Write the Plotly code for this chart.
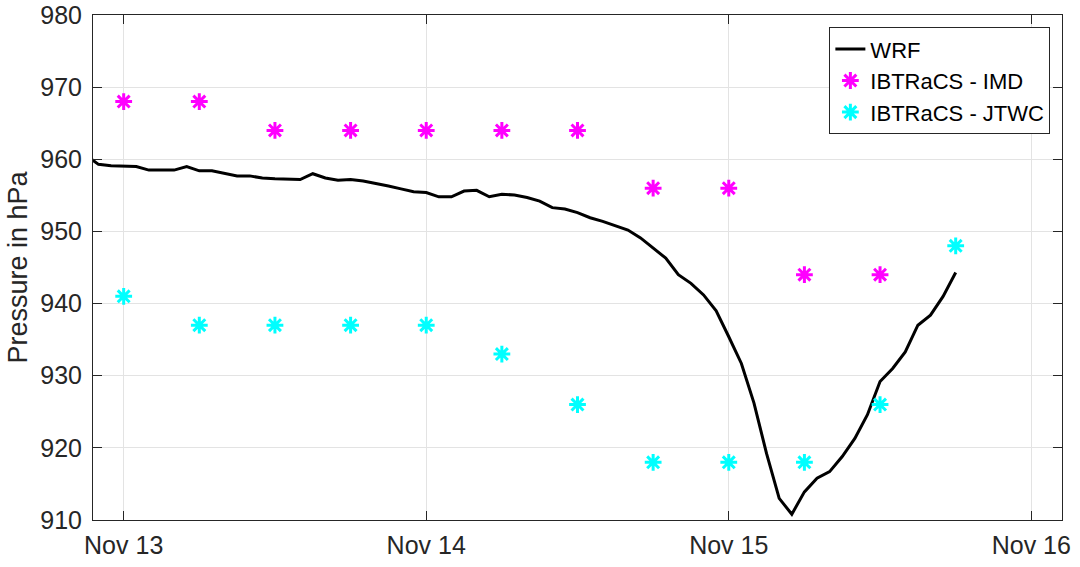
import plotly.graph_objects as go
import pandas as pd

# WRF hourly minimum pressure (hPa), Nov 12 21:00 -> Nov 15 18:00
wrf_start = "2018-11-12 21:00"
wrf_pressure = [
    960.6, 959.3, 959.1,
    959.0, 959.0, 958.5, 958.5, 958.5, 959.0, 958.4, 958.4, 958.0, 957.7, 957.7, 957.4,
    957.3, 957.2, 957.2, 958.0, 957.4, 957.1, 957.2, 957.0, 956.7, 956.3, 955.9, 955.5,
    955.4, 954.8, 954.8, 955.6, 955.7, 954.8, 955.15, 955.05, 954.7, 954.2, 953.3, 953.1,
    952.6, 951.9, 951.4, 950.75, 950.2, 949.1, 947.7, 946.3, 944.0, 942.8, 941.2, 939.0,
    935.4, 931.7, 926.2, 919.2, 913.0, 910.8, 913.9, 915.8, 916.7, 918.8, 921.3, 924.6,
    929.2, 931.0, 933.3, 937.0, 938.4, 941.0, 944.3,
]
wrf_time = pd.date_range(wrf_start, periods=len(wrf_pressure), freq="h")

# IBTrACS observations (6-hourly)
imd_time = pd.date_range("2018-11-13 00:00", "2018-11-15 12:00", freq="6h")
imd_pressure = [968, 968, 964, 964, 964, 964, 964, 956, 956, 944, 944]

jtwc_time = pd.date_range("2018-11-13 00:00", "2018-11-15 18:00", freq="6h")
jtwc_pressure = [941, 937, 937, 937, 937, 933, 926, 918, 918, 918, 926, 948]

tick_dates = ["2018-11-13", "2018-11-14", "2018-11-15", "2018-11-16"]
tick_labels = ["Nov 13", "Nov 14", "Nov 15", "Nov 16"]
y_ticks = [910, 920, 930, 940, 950, 960, 970, 980]

FONT = "Liberation Sans, Arial, Helvetica, sans-serif"
AXC = "#262626"
GRID = "#e3e3e3"

fig = go.Figure()
fig.add_trace(go.Scatter(
    x=wrf_time, y=wrf_pressure, mode="lines", name="WRF",
    line=dict(color="black", width=3),
))
fig.add_trace(go.Scatter(
    x=imd_time, y=imd_pressure, mode="markers", name="IBTRaCS - IMD",
    marker=dict(symbol="asterisk-open", size=14, color="#ff00ff",
                line=dict(color="#ff00ff", width=3)),
))
fig.add_trace(go.Scatter(
    x=jtwc_time, y=jtwc_pressure, mode="markers", name="IBTRaCS - JTWC",
    marker=dict(symbol="asterisk-open", size=14, color="#00ffff",
                line=dict(color="#00ffff", width=3)),
))

fig.update_layout(
    width=1080, height=567,
    margin=dict(l=93, r=18, t=15, b=47, autoexpand=False),
    paper_bgcolor="white", plot_bgcolor="white",
    font=dict(family=FONT, size=25, color=AXC),
    showlegend=True,
    legend=dict(
        x=0.988, y=0.976, xanchor="right", yanchor="top",
        bgcolor="white", bordercolor=AXC, borderwidth=1,
        font=dict(family=FONT, size=22, color="black"),
        itemwidth=30, tracegroupgap=0,
    ),
)
fig.update_xaxes(
    type="date", automargin=False,
    range=["2018-11-12 21:34", "2018-11-16 02:26"],
    tickmode="array", tickvals=tick_dates, ticktext=tick_labels,
    ticks="inside", ticklen=9, tickwidth=1, tickcolor=AXC,
    showline=True, linecolor=AXC, linewidth=1, mirror="ticks",
    showgrid=True, gridcolor=GRID, gridwidth=1,
    zeroline=False, ticklabelstandoff=3,
    tickfont=dict(family=FONT, size=25, color=AXC),
)
fig.update_yaxes(
    automargin=False,
    range=[910, 980],
    tickmode="array", tickvals=y_ticks,
    ticks="inside", ticklen=9, tickwidth=1, tickcolor=AXC,
    showline=True, linecolor=AXC, linewidth=1, mirror="ticks",
    showgrid=True, gridcolor=GRID, gridwidth=1,
    zeroline=False, ticklabelstandoff=5,
    tickfont=dict(family=FONT, size=25, color=AXC),
    title=dict(text="Pressure in hPa", font=dict(family=FONT, size=27, color=AXC), standoff=4),
)

fig.write_html("out.html", config={"displayModeBar": False},
               post_script="document.body.style.margin='0';")
